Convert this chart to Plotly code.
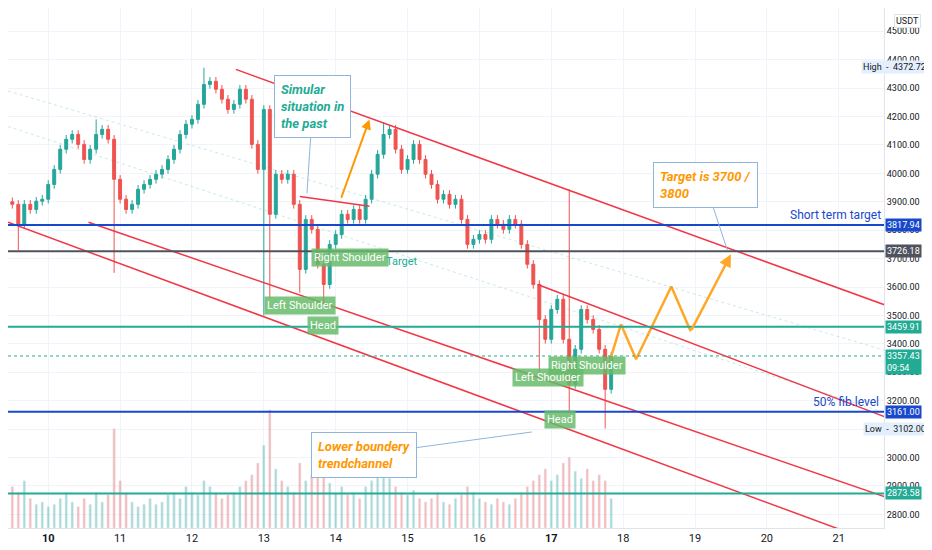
import plotly.graph_objects as go

# -----------------------------
# DATA (2h candles, x in days of month)
# -----------------------------
start_day = 9.5
step = 1 / 12
closes = [3891, 3821, 3891, 3873, 3902, 3909, 3961, 4014, 4085, 4120,
          4137, 4102, 4049, 4085, 4137, 4155, 4120, 3979, 3909, 3873,
          3891, 3944, 3961, 3979, 3997, 4014, 4049, 4085, 4137, 4173,
          4190, 4243, 4313, 4324, 4296, 4261, 4225, 4243, 4296, 4261,
          4102, 4014, 4225, 3856, 3997, 3979, 3997, 3891, 3662, 3838,
          3803, 3680, 3609, 3750, 3785, 3856, 3838, 3873, 3838, 3909,
          3997, 4067, 4137, 4155, 4085, 4014, 4049, 4102, 4049, 3997,
          3961, 3909, 3926, 3891, 3909, 3838, 3750, 3768, 3785, 3768,
          3838, 3821, 3803, 3838, 3821, 3750, 3680, 3609, 3486, 3416,
          3521, 3557, 3416, 3257, 3381, 3521, 3486, 3451, 3381, 3240,
          3357]
first_open = 3900
wick_default = 15
high_override = {32: 4372, 42: 4240, 93: 3944, 62: 4180, 14: 4190}
low_override = {17: 3650, 42: 3500, 43: 3560, 48: 3580, 52: 3540, 93: 3160, 99: 3102, 88: 3300, 1: 3730}
volumes = [35, 30, 40, 25, 20, 22, 18, 20, 25, 30,
           22, 18, 25, 20, 30, 22, 28, 84, 40, 30,
           22, 18, 20, 25, 20, 22, 28, 30, 25, 35,
           30, 28, 40, 35, 30, 25, 28, 30, 35, 40,
           45, 55, 70, 100, 50, 40, 35, 30, 55, 40,
           45, 50, 48, 38, 30, 35, 28, 30, 25, 35,
           40, 45, 50, 42, 35, 30, 28, 32, 25, 22,
           25, 30, 22, 20, 25, 28, 35, 30, 25, 22,
           20, 25, 22, 20, 25, 30, 35, 40, 45, 50,
           40, 45, 55, 60, 48, 42, 50, 40, 45, 40,
           25]

price_levels = {"3817.94": (3817.94, "#1848cc"), "3726.18": (3726.18, "#50535e"),
                "3459.91": (3459.91, "#22ab94"), "3161.00": (3161.00, "#1848cc"),
                "2873.58": (2873.58, "#22ab94")}
last_price = 3357.43
day_ticks = [10, 11, 12, 13, 14, 15, 16, 17, 18, 19, 20, 21]
projection_days = [17.8, 17.97, 18.18, 18.67, 18.94]
projection_prices = [3328, 3469, 3346, 3602, 3444]
target_point = (19.5, 3715)

# -----------------------------
# BUILD OHLC
# -----------------------------
x = [start_day + i * step for i in range(len(closes))]
opens = [first_open] + closes[:-1]
highs = [high_override.get(i, max(o, c) + wick_default) for i, (o, c) in enumerate(zip(opens, closes))]
lows = [low_override.get(i, min(o, c) - wick_default) for i, (o, c) in enumerate(zip(opens, closes))]
vol_colors = ["rgba(38,166,154,0.4)" if c >= o else "rgba(239,83,80,0.4)" for o, c in zip(opens, closes)]

fig = go.Figure()
fig.add_trace(go.Bar(x=x, y=volumes, marker_color=vol_colors, width=step * 0.4,
                     yaxis="y2", hoverinfo="skip"))
fig.add_trace(go.Candlestick(x=x, open=opens, high=highs, low=lows, close=closes,
                             increasing=dict(line=dict(color="#26a69a", width=1), fillcolor="#26a69a"),
                             decreasing=dict(line=dict(color="#ef5350", width=1), fillcolor="#ef5350"),
                             whiskerwidth=0))

# trend lines
red = "#f23645"
for (x0, y0, x1, y1) in [(12.61, 4366, 21.74, 3528), (10.56, 3828, 21.74, 2853),
                         (9.44, 3828, 21.39, 2712), (16.81, 3609, 21.74, 3134),
                         (13.5, 3919, 14.47, 3884)]:
    fig.add_shape(type="line", x0=x0, y0=y0, x1=x1, y1=y1, line=dict(color=red, width=1.5))
for (x0, y0, x1, y1) in [(9.44, 4290, 21.74, 3370), (9.44, 4165, 21.74, 3150)]:
    fig.add_shape(type="line", x0=x0, y0=y0, x1=x1, y1=y1,
                  line=dict(color="rgba(38,166,154,0.25)", width=1, dash="dot"))

lab_font = dict(color="white", size=9)
for name, (lvl, col) in price_levels.items():
    fig.add_hline(y=lvl, line=dict(color=col, width=2))
    fig.add_annotation(xref="paper", x=1.0, y=lvl, text=name, showarrow=False, xanchor="left",
                       xshift=1, bgcolor=col, font=lab_font, borderpad=1)
fig.add_hline(y=last_price, line=dict(color="#22ab94", width=1, dash="dot"))
fig.add_annotation(xref="paper", x=1.0, y=last_price - 20, text="3357.43<br>09:54", showarrow=False,
                   xanchor="left", xshift=1, align="left", bgcolor="#22ab94", font=lab_font, borderpad=1)
for txt, yv in [("High  -  4372.72", 4372.72), ("Low  -  3102.00", 3102.0)]:
    fig.add_annotation(xref="paper", x=1.0, y=yv, text=txt, showarrow=False, xanchor="right",
                       xshift=44, bgcolor="#e3effd", font=dict(color="#131722", size=9), borderpad=1)
fig.add_annotation(xref="paper", yref="paper", x=1.0, y=1.0, text="USDT", showarrow=False,
                   xanchor="left", xshift=10, yanchor="top", yshift=-6, bgcolor="white",
                   bordercolor="#e0e3eb", font=dict(color="#131722", size=9))

# orange arrows
orange = "#ff9800"
fig.add_annotation(x=14.47, y=4190, ax=14.07, ay=3909, axref="x", ayref="y", text="",
                   arrowcolor=orange, arrowwidth=2, arrowhead=2, showarrow=True)
fig.add_trace(go.Scatter(x=projection_days, y=projection_prices, mode="lines",
                         line=dict(color="#ffa726", width=2.5), hoverinfo="skip"))
fig.add_annotation(x=target_point[0], y=target_point[1], ax=projection_days[-1], ay=projection_prices[-1],
                   axref="x", ayref="y", text="", arrowcolor="#ffa726", arrowwidth=2.5, arrowhead=2)

# callouts
for txt, xc, yc, tx, ty, col in [
    ("Simular<br>situation in<br>the past", 13.68, 4235, 13.6, 3930, "#22ab94"),
    ("Target is 3700 /<br>3800", 19.15, 3960, 19.45, 3730, orange),
    ("Lower boundery<br>trendchannel", 14.4, 3010, 16.73, 3090, orange)]:
    fig.add_annotation(x=xc, y=yc, text="<b><i>" + txt + "</i></b>", showarrow=False, align="left",
                       font=dict(color=col, size=13), bgcolor="white", bordercolor="#90b4e0",
                       borderwidth=1, borderpad=6)
    fig.add_shape(type="line", x0=xc, y0=yc, x1=tx, y1=ty, line=dict(color="#90b4e0", width=1))

# pattern labels
for txt, xl, yl in [("Left Shoulder", 13.5, 3535), ("Head", 13.82, 3465), ("Right Shoulder", 14.2, 3705),
                    ("Left Shoulder", 16.95, 3280), ("Right Shoulder", 17.5, 3325), ("Head", 17.12, 3135)]:
    fig.add_annotation(x=xl, y=yl, text=txt, showarrow=False, bgcolor="rgba(102,187,106,0.85)",
                       font=dict(color="white", size=11), borderpad=2)
fig.add_annotation(x=14.92, y=3690, text="Target", showarrow=False, font=dict(color="#22ab94", size=11))
fig.add_annotation(x=20.95, y=3852, text="Short term target", showarrow=False,
                   font=dict(color="#1848cc", size=12))
fig.add_annotation(x=21.1, y=3195, text="50% fib.level", showarrow=False,
                   font=dict(color="#1848cc", size=12))

fig.update_layout(
    width=932, height=550, margin=dict(l=0, r=56, t=0, b=30),
    plot_bgcolor="white", paper_bgcolor="white", showlegend=False,
    font=dict(family="Roboto, sans-serif", color="#131722"),
    xaxis=dict(range=[9.44, 21.63], rangeslider=dict(visible=False), tickvals=day_ticks,
               ticktext=["<b>10</b>"] + [str(d) for d in day_ticks[1:7]] + ["<b>17</b>"] + [str(d) for d in day_ticks[8:]],
               showgrid=True, gridcolor="#f0f3fa", zeroline=False, showline=True, linecolor="#e0e3eb",
               tickfont=dict(size=11)),
    yaxis=dict(side="right", range=[2752, 4582], tickvals=list(range(2800, 4501, 100)),
               tickformat=".2f", showgrid=True, gridcolor="#f0f3fa", zeroline=False,
               showline=True, linecolor="#e0e3eb", tickfont=dict(size=9)),
    yaxis2=dict(overlaying="y", range=[0, 440], visible=False),
)

fig.write_html("out.html")
